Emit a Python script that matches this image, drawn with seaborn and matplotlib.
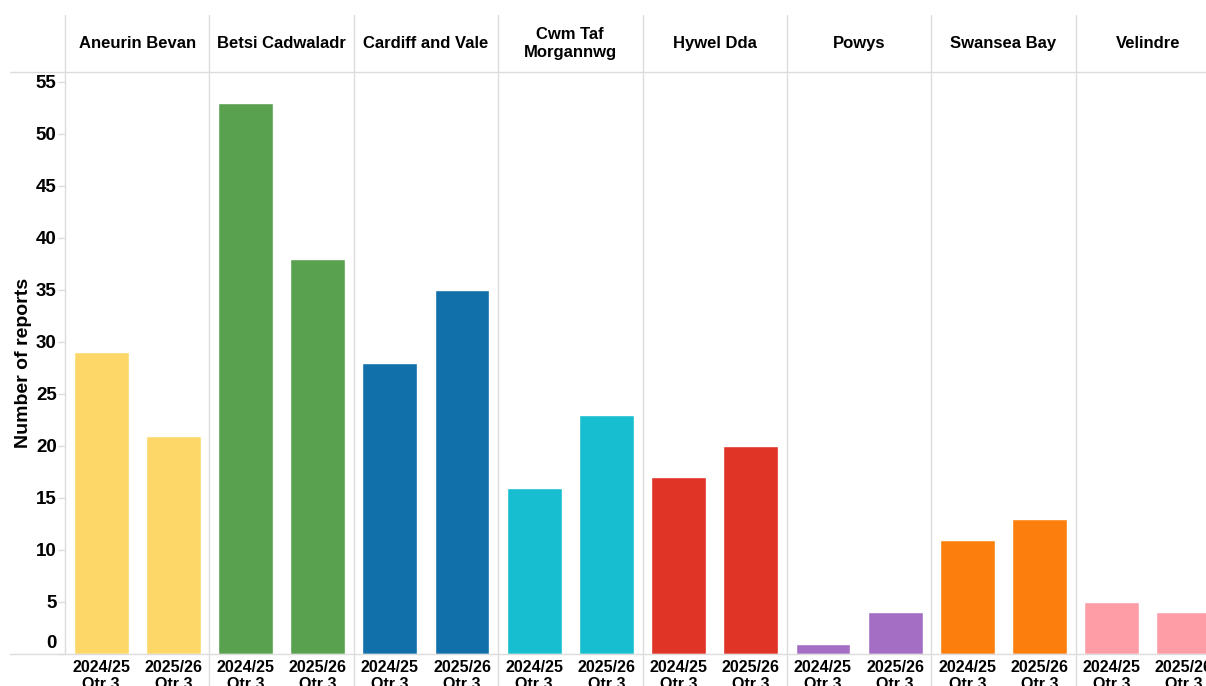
import numpy as np
import pandas as pd
import seaborn as sns
import matplotlib.pyplot as plt
from matplotlib.transforms import ScaledTranslation

boards = ["Aneurin Bevan", "Betsi Cadwaladr", "Cardiff and Vale", "Cwm Taf\nMorgannwg",
          "Hywel Dda", "Powys", "Swansea Bay", "Velindre"]
periods = ["2024/25\nQtr 3", "2025/26\nQtr 3"]
q3_2024_25 = [29, 53, 28, 16, 17, 1, 11, 5]
q3_2025_26 = [21, 38, 35, 23, 20, 4, 13, 4]
board_colors = ["#FDD868", "#59A14F", "#1170AA", "#17BECF",
                "#E03426", "#A36EC4", "#FC7F0E", "#FF9DA7"]
y_ticks = list(range(0, 56, 5))

rows = []
for i, b in enumerate(boards):
    rows.append(dict(board=b, period=periods[0], slot=f"{i}-0", value=q3_2024_25[i]))
    rows.append(dict(board=b, period=periods[1], slot=f"{i}-1", value=q3_2025_26[i]))
df = pd.DataFrame(rows)

sns.set_theme(style="white")
plt.rcParams['font.family'] = ['Liberation Sans', 'DejaVu Sans']

W, H = 1206, 686
fig = plt.figure(figsize=(W / 100, H / 100), dpi=100)
left = 65 / W
right = 1220 / W
ax = fig.add_axes([left, (H - 654) / H, right - left, (654 - 72) / H])
hax = fig.add_axes([left, (H - 72) / H, right - left, (72 - 15) / H])

sns.barplot(data=df, x="slot", y="value", hue="board", palette=board_colors,
            dodge=False, width=0.76, ax=ax, legend=False, saturation=1)

grid_c = "#dcdcdc"
ax.set_xlim(-0.5, 15.5)
ax.set_ylim(0, 55.96)
for s in ax.spines.values():
    s.set_visible(False)

# x tick labels
ax.set_xticks(range(16))
ax.set_xticklabels(periods * 8, fontsize=11.5, fontweight="bold", color="black")
ax.tick_params(axis="x", length=0, pad=4)
ax.set_xticks([2 * i + 0.5 for i in range(8)], minor=True)
ax.tick_params(axis="x", which="minor", length=3, color=grid_c, width=1, direction="out")
ax.set_xlabel("")

# y ticks
ax.set_yticks(y_ticks)
ax.set_yticklabels([str(v) for v in y_ticks], fontsize=13.5, fontweight="bold", color="black")
ax.tick_params(axis="y", length=5, color=grid_c, width=1, pad=1, left=True)
lab0 = ax.get_yticklabels()[0]
lab0.set_transform(lab0.get_transform() + ScaledTranslation(0, 12 / 100, fig.dpi_scale_trans))
ax.set_ylabel("Number of reports", fontsize=14, fontweight="bold", color="black")
ax.yaxis.set_label_coords((32 - 65) / 1155, 0.5)

# separators
xmin_ext = (10 - 65) / 1155
ax.axhline(0, xmin=xmin_ext, xmax=1, color=grid_c, lw=1, clip_on=False)
ax.axvline(-0.5, ymin=0, ymax=1, color=grid_c, lw=1, clip_on=False)
for k in range(1, 8):
    ax.axvline(2 * k - 0.5, ymin=-(32 / 582), ymax=1, color=grid_c, lw=1, clip_on=False)

# header
hax.set_xlim(-0.5, 15.5)
hax.set_ylim(0, 1)
hax.axis("off")
hax.axhline(0, xmin=xmin_ext, xmax=1, color=grid_c, lw=1, clip_on=False)
for k in range(0, 8):
    hax.axvline(2 * k - 0.5, ymin=0, ymax=1, color=grid_c, lw=1, clip_on=False)
for i, b in enumerate(boards):
    hax.text(2 * i + 0.5, 0.5, b, ha="center", va="center", fontsize=12,
             fontweight="bold", color="black", linespacing=1.2)

fig.savefig("out.png", dpi=100)
